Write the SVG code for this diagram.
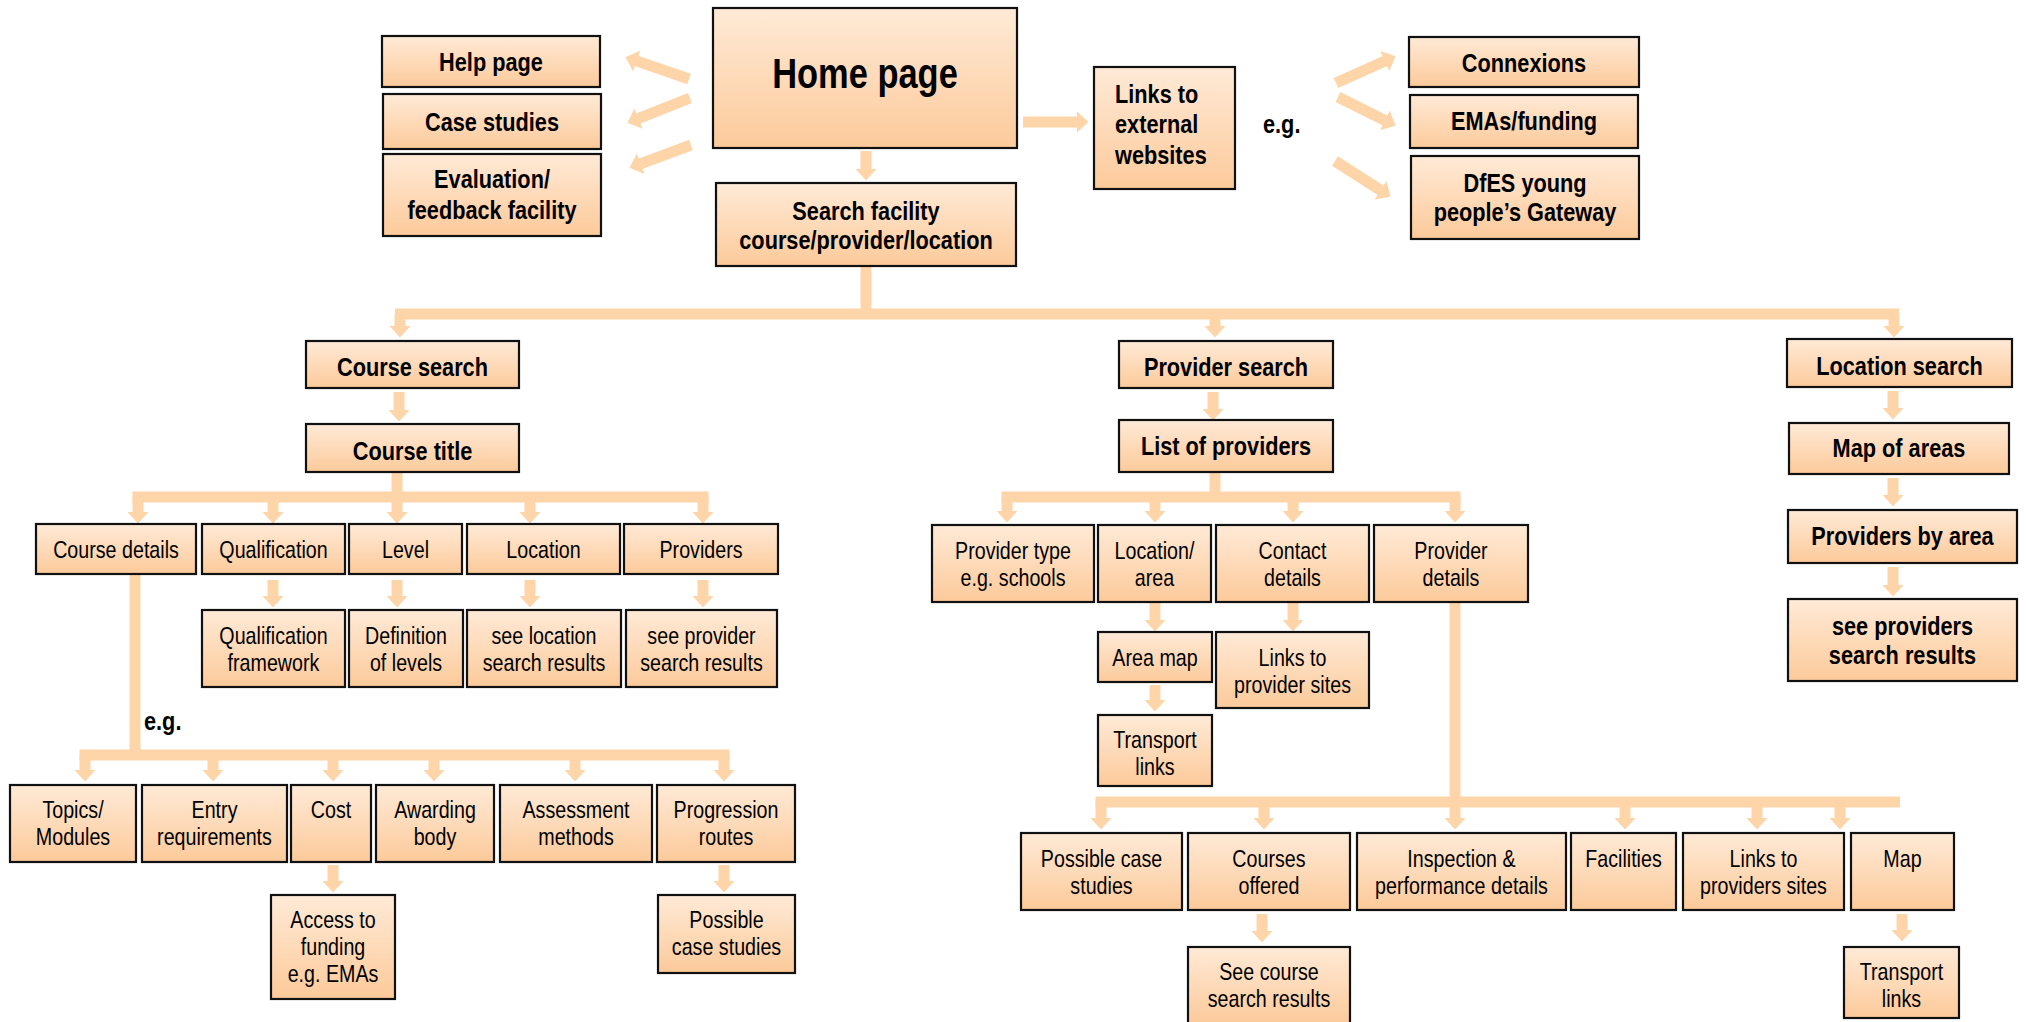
<svg xmlns="http://www.w3.org/2000/svg" width="2026" height="1022" viewBox="0 0 2026 1022">
<defs>
<linearGradient id="fillg" x1="0" y1="0" x2="0" y2="1">
<stop offset="0" stop-color="#FFEAD7"/>
<stop offset="1" stop-color="#FCCA9A"/>
</linearGradient>
<marker id="ah" markerUnits="userSpaceOnUse" markerWidth="12" markerHeight="22" viewBox="0 0 12 22" refX="0.5" refY="11" orient="auto">
<path d="M0,0 L12,11 L0,22 z" fill="#FED5A9"/>
</marker>
<style>
rect.n{fill:url(#fillg);stroke:#111;stroke-width:2.2}
text{font-family:"Liberation Sans",Arial,sans-serif;fill:#000;text-anchor:middle}
.b{font-weight:bold;font-size:26.5px}
.r{font-size:24px}
.h{font-weight:bold;font-size:42px}
.l{text-anchor:start}
.c{fill:none;stroke:#FED5A9;stroke-width:11}
.a{fill:none;stroke:#FED5A9;stroke-width:11;marker-end:url(#ah)}
</style>
</defs>
<rect width="2026" height="1022" fill="#fff"/>

<g id="connectors">
<path class="a" d="M689,79 L636.3,60.9"/>
<path class="a" d="M690,98 L638.1,118.6"/>
<path class="a" d="M691,145 L640.3,163.8"/>
<path class="a" d="M866,151 V169"/>
<path class="a" d="M1023,122 H1077"/>
<path class="a" d="M1336,83 L1385.1,60.9"/>
<path class="a" d="M1338,97 L1385.3,120.6"/>
<path class="a" d="M1335,161 L1380.9,190.5"/>
<path class="c" d="M866,266 V314"/>
<path class="c" d="M395,314 H1899"/>
<path class="a" d="M400,314 V326"/>
<path class="a" d="M1215,314 V326"/>
<path class="a" d="M1894,314 V326"/>
<path class="a" d="M399,392 V410"/>
<path class="c" d="M397,472 V497"/>
<path class="c" d="M132.5,497 H708.5"/>
<path class="a" d="M138,497 V512"/>
<path class="a" d="M273,497 V512"/>
<path class="a" d="M397,497 V512"/>
<path class="a" d="M530,497 V512"/>
<path class="a" d="M703,497 V512"/>
<path class="a" d="M273,580 V596"/>
<path class="a" d="M397,580 V596"/>
<path class="a" d="M530,580 V596"/>
<path class="a" d="M703,580 V596"/>
<path class="c" d="M135,575 V755"/>
<path class="c" d="M79.5,755 H729.5"/>
<path class="a" d="M85,755 V770"/>
<path class="a" d="M213,755 V770"/>
<path class="a" d="M333,755 V770"/>
<path class="a" d="M434,755 V770"/>
<path class="a" d="M575,755 V770"/>
<path class="a" d="M724,755 V770"/>
<path class="a" d="M333,865 V881"/>
<path class="a" d="M724,865 V881"/>
<path class="a" d="M1213,392 V409"/>
<path class="c" d="M1215,472 V497"/>
<path class="c" d="M1001.5,497 H1460.5"/>
<path class="a" d="M1007,497 V511"/>
<path class="a" d="M1155,497 V511"/>
<path class="a" d="M1293,497 V511"/>
<path class="a" d="M1455,497 V511"/>
<path class="a" d="M1155,603 V620"/>
<path class="a" d="M1293,603 V620"/>
<path class="a" d="M1155,685 V700"/>
<path class="c" d="M1455,603 V802"/>
<path class="c" d="M1095.5,802 H1900"/>
<path class="a" d="M1101,802 V818"/>
<path class="a" d="M1264,802 V818"/>
<path class="a" d="M1455,802 V818"/>
<path class="a" d="M1625,802 V818"/>
<path class="a" d="M1757,802 V818"/>
<path class="a" d="M1840,802 V818"/>
<path class="a" d="M1262,914 V931"/>
<path class="a" d="M1902,914 V930"/>
<path class="a" d="M1893,391 V408"/>
<path class="a" d="M1893,478 V495"/>
<path class="a" d="M1893,567 V585"/>
</g>

<g id="help"><rect class="n" x="382" y="36" width="218" height="51"/><text class="b" transform="translate(491 0) scale(.82 1)" y="71">Help page</text></g>
<g id="case-studies"><rect class="n" x="383" y="94" width="218" height="55"/><text class="b" transform="translate(492 0) scale(.82 1)" y="131">Case studies</text></g>
<g id="evaluation"><rect class="n" x="383" y="154" width="218" height="82"/><text class="b" transform="translate(492 0) scale(.82 1)"><tspan x="0" y="188">Evaluation/</tspan><tspan x="0" y="219">feedback facility</tspan></text></g>
<g id="home"><rect class="n" x="713" y="8" width="304" height="140"/><text class="h" transform="translate(865 0) scale(.82 1)" y="88">Home page</text></g>
<g id="search"><rect class="n" x="716" y="183" width="300" height="83"/><text class="b" transform="translate(866 0) scale(.82 1)"><tspan x="0" y="220">Search facility</tspan><tspan x="0" y="249">course/provider/location</tspan></text></g>
<g id="links-external"><rect class="n" x="1094" y="67" width="141" height="122"/><text class="b l" transform="translate(1115 0) scale(.82 1)"><tspan x="0" y="103">Links to</tspan><tspan x="0" y="133">external</tspan><tspan x="0" y="164">websites</tspan></text></g>
<g id="eg-top"><text class="b l" transform="translate(1263 0) scale(.82 1)" y="133">e.g.</text></g>
<g id="connexions"><rect class="n" x="1409" y="37" width="230" height="50"/><text class="b" transform="translate(1524 0) scale(.82 1)" y="72">Connexions</text></g>
<g id="emas"><rect class="n" x="1410" y="95" width="228" height="53"/><text class="b" transform="translate(1524 0) scale(.82 1)" y="130">EMAs/funding</text></g>
<g id="dfes"><rect class="n" x="1411" y="156" width="228" height="83"/><text class="b" transform="translate(1525 0) scale(.82 1)"><tspan x="0" y="192">DfES young</tspan><tspan x="0" y="221">people’s Gateway</tspan></text></g>

<g id="course-search"><rect class="n" x="306" y="341" width="213" height="47"/><text class="b" transform="translate(412.5 0) scale(.82 1)" y="376">Course search</text></g>
<g id="course-title"><rect class="n" x="306" y="424" width="213" height="48"/><text class="b" transform="translate(412.5 0) scale(.82 1)" y="460">Course title</text></g>
<g id="course-details"><rect class="n" x="36" y="524" width="160" height="50"/><text class="r" transform="translate(116 0) scale(.82 1)" y="558">Course details</text></g>
<g id="qualification"><rect class="n" x="202" y="524" width="143" height="50"/><text class="r" transform="translate(273.5 0) scale(.82 1)" y="558">Qualification</text></g>
<g id="level"><rect class="n" x="349" y="524" width="113" height="50"/><text class="r" transform="translate(405.5 0) scale(.82 1)" y="558">Level</text></g>
<g id="location"><rect class="n" x="467" y="524" width="153" height="50"/><text class="r" transform="translate(543.5 0) scale(.82 1)" y="558">Location</text></g>
<g id="providers"><rect class="n" x="624" y="524" width="154" height="50"/><text class="r" transform="translate(701 0) scale(.82 1)" y="558">Providers</text></g>
<g id="qual-framework"><rect class="n" x="202" y="610" width="143" height="77"/><text class="r" transform="translate(273.5 0) scale(.82 1)"><tspan x="0" y="644">Qualification</tspan><tspan x="0" y="671">framework</tspan></text></g>
<g id="def-levels"><rect class="n" x="349" y="610" width="114" height="77"/><text class="r" transform="translate(406 0) scale(.82 1)"><tspan x="0" y="644">Definition</tspan><tspan x="0" y="671">of levels</tspan></text></g>
<g id="see-location"><rect class="n" x="467" y="610" width="154" height="77"/><text class="r" transform="translate(544 0) scale(.82 1)"><tspan x="0" y="644">see location</tspan><tspan x="0" y="671">search results</tspan></text></g>
<g id="see-provider"><rect class="n" x="626" y="610" width="151" height="77"/><text class="r" transform="translate(701.5 0) scale(.82 1)"><tspan x="0" y="644">see provider</tspan><tspan x="0" y="671">search results</tspan></text></g>
<g id="eg-bottom"><text class="b l" transform="translate(144 0) scale(.82 1)" y="730">e.g.</text></g>
<g id="topics"><rect class="n" x="10" y="785" width="126" height="77"/><text class="r" transform="translate(73 0) scale(.82 1)"><tspan x="0" y="818">Topics/</tspan><tspan x="0" y="845">Modules</tspan></text></g>
<g id="entry"><rect class="n" x="142" y="785" width="145" height="77"/><text class="r" transform="translate(214.5 0) scale(.82 1)"><tspan x="0" y="818">Entry</tspan><tspan x="0" y="845">requirements</tspan></text></g>
<g id="cost"><rect class="n" x="291" y="785" width="80" height="77"/><text class="r" transform="translate(331 0) scale(.82 1)" y="818">Cost</text></g>
<g id="awarding"><rect class="n" x="376" y="785" width="118" height="77"/><text class="r" transform="translate(435 0) scale(.82 1)"><tspan x="0" y="818">Awarding</tspan><tspan x="0" y="845">body</tspan></text></g>
<g id="assessment"><rect class="n" x="500" y="785" width="152" height="77"/><text class="r" transform="translate(576 0) scale(.82 1)"><tspan x="0" y="818">Assessment</tspan><tspan x="0" y="845">methods</tspan></text></g>
<g id="progression"><rect class="n" x="657" y="785" width="138" height="77"/><text class="r" transform="translate(726 0) scale(.82 1)"><tspan x="0" y="818">Progression</tspan><tspan x="0" y="845">routes</tspan></text></g>
<g id="access"><rect class="n" x="271" y="895" width="124" height="104"/><text class="r" transform="translate(333 0) scale(.82 1)"><tspan x="0" y="928">Access to</tspan><tspan x="0" y="955">funding</tspan><tspan x="0" y="982">e.g. EMAs</tspan></text></g>
<g id="possible-cs1"><rect class="n" x="658" y="895" width="137" height="78"/><text class="r" transform="translate(726.5 0) scale(.82 1)"><tspan x="0" y="928">Possible</tspan><tspan x="0" y="955">case studies</tspan></text></g>

<g id="provider-search"><rect class="n" x="1119" y="341" width="214" height="47"/><text class="b" transform="translate(1226 0) scale(.82 1)" y="376">Provider search</text></g>
<g id="list-providers"><rect class="n" x="1119" y="420" width="214" height="52"/><text class="b" transform="translate(1226 0) scale(.82 1)" y="455">List of providers</text></g>
<g id="provider-type"><rect class="n" x="932" y="525" width="162" height="77"/><text class="r" transform="translate(1013 0) scale(.82 1)"><tspan x="0" y="559">Provider type</tspan><tspan x="0" y="586">e.g. schools</tspan></text></g>
<g id="location-area"><rect class="n" x="1098" y="525" width="113" height="77"/><text class="r" transform="translate(1154.5 0) scale(.82 1)"><tspan x="0" y="559">Location/</tspan><tspan x="0" y="586">area</tspan></text></g>
<g id="contact"><rect class="n" x="1216" y="525" width="153" height="77"/><text class="r" transform="translate(1292.5 0) scale(.82 1)"><tspan x="0" y="559">Contact</tspan><tspan x="0" y="586">details</tspan></text></g>
<g id="provider-details"><rect class="n" x="1374" y="525" width="154" height="77"/><text class="r" transform="translate(1451 0) scale(.82 1)"><tspan x="0" y="559">Provider</tspan><tspan x="0" y="586">details</tspan></text></g>
<g id="area-map"><rect class="n" x="1098" y="632" width="114" height="50"/><text class="r" transform="translate(1155 0) scale(.82 1)" y="666">Area map</text></g>
<g id="links-provider-sites"><rect class="n" x="1216" y="632" width="153" height="76"/><text class="r" transform="translate(1292.5 0) scale(.82 1)"><tspan x="0" y="666">Links to</tspan><tspan x="0" y="693">provider sites</tspan></text></g>
<g id="transport1"><rect class="n" x="1098" y="715" width="114" height="71"/><text class="r" transform="translate(1155 0) scale(.82 1)"><tspan x="0" y="748">Transport</tspan><tspan x="0" y="775">links</tspan></text></g>
<g id="possible-cs2"><rect class="n" x="1021" y="833" width="161" height="77"/><text class="r" transform="translate(1101.5 0) scale(.82 1)"><tspan x="0" y="867">Possible case</tspan><tspan x="0" y="894">studies</tspan></text></g>
<g id="courses-offered"><rect class="n" x="1188" y="833" width="162" height="77"/><text class="r" transform="translate(1269 0) scale(.82 1)"><tspan x="0" y="867">Courses</tspan><tspan x="0" y="894">offered</tspan></text></g>
<g id="inspection"><rect class="n" x="1357" y="833" width="209" height="77"/><text class="r" transform="translate(1461.5 0) scale(.82 1)"><tspan x="0" y="867">Inspection &amp;</tspan><tspan x="0" y="894">performance details</tspan></text></g>
<g id="facilities"><rect class="n" x="1571" y="833" width="105" height="77"/><text class="r" transform="translate(1623.5 0) scale(.82 1)" y="867">Facilities</text></g>
<g id="links-providers-sites"><rect class="n" x="1683" y="833" width="161" height="77"/><text class="r" transform="translate(1763.5 0) scale(.82 1)"><tspan x="0" y="867">Links to</tspan><tspan x="0" y="894">providers sites</tspan></text></g>
<g id="map"><rect class="n" x="1851" y="833" width="103" height="77"/><text class="r" transform="translate(1902.5 0) scale(.82 1)" y="867">Map</text></g>
<g id="see-course"><rect class="n" x="1188" y="947" width="162" height="77"/><text class="r" transform="translate(1269 0) scale(.82 1)"><tspan x="0" y="980">See course</tspan><tspan x="0" y="1007">search results</tspan></text></g>
<g id="transport2"><rect class="n" x="1844" y="947" width="115" height="71"/><text class="r" transform="translate(1901.5 0) scale(.82 1)"><tspan x="0" y="980">Transport</tspan><tspan x="0" y="1007">links</tspan></text></g>

<g id="location-search"><rect class="n" x="1787" y="339" width="225" height="48"/><text class="b" transform="translate(1899.5 0) scale(.82 1)" y="375">Location search</text></g>
<g id="map-areas"><rect class="n" x="1789" y="423" width="220" height="51"/><text class="b" transform="translate(1899 0) scale(.82 1)" y="457">Map of areas</text></g>
<g id="providers-area"><rect class="n" x="1788" y="510" width="229" height="53"/><text class="b" transform="translate(1902.5 0) scale(.82 1)" y="545">Providers by area</text></g>
<g id="see-providers"><rect class="n" x="1788" y="599" width="229" height="82"/><text class="b" transform="translate(1902.5 0) scale(.82 1)"><tspan x="0" y="635">see providers</tspan><tspan x="0" y="664">search results</tspan></text></g>
</svg>
